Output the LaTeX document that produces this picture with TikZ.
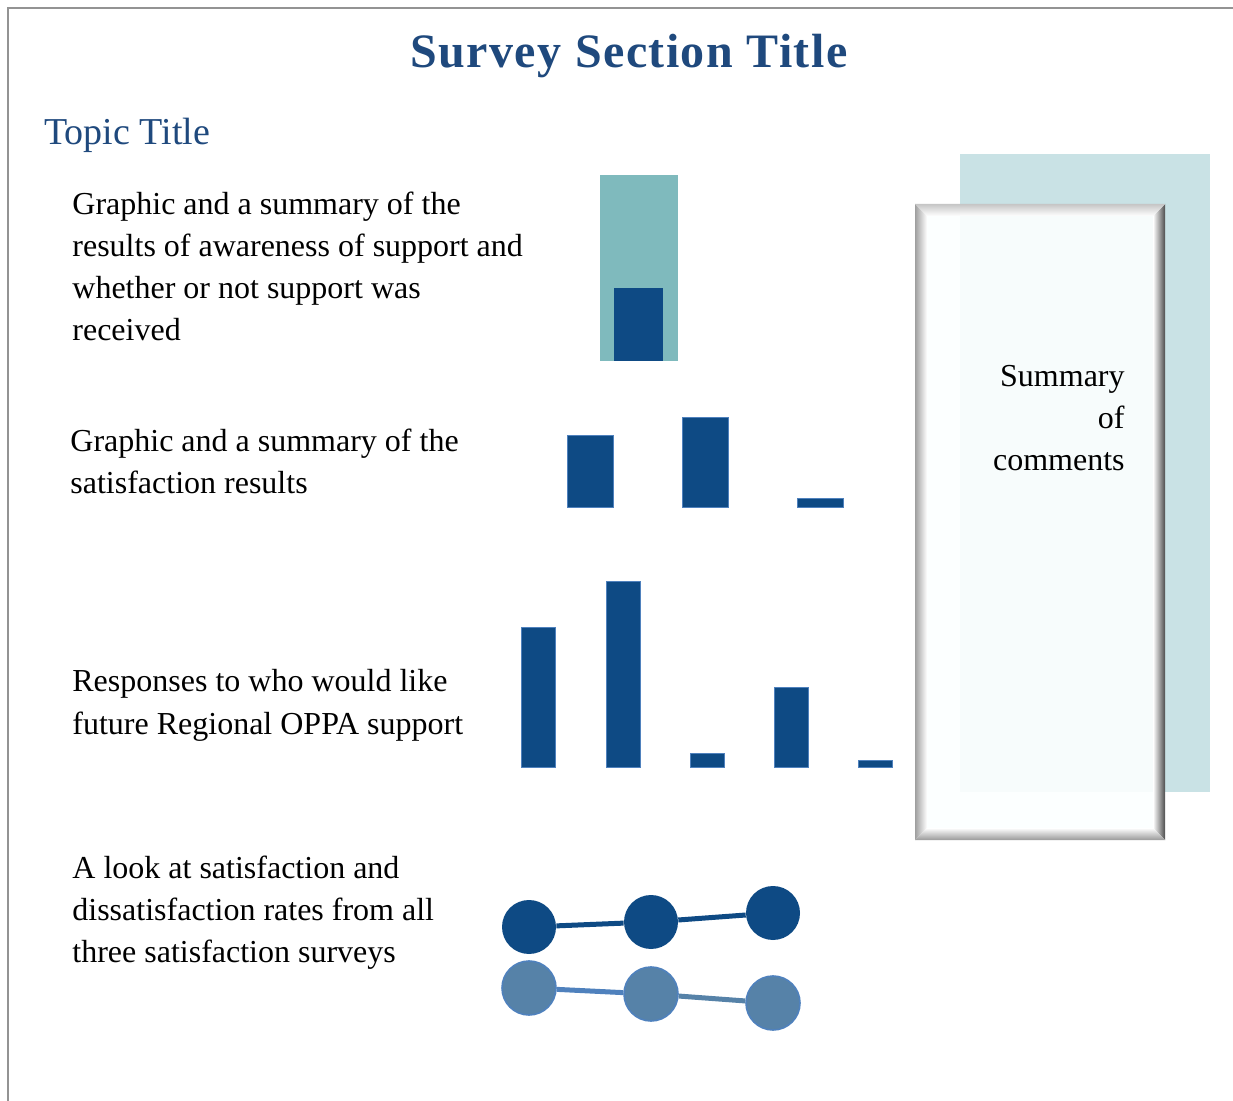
\documentclass[tikz,border=0pt]{standalone}
\usepackage{fontspec}
\setmainfont{Liberation Serif}
\usetikzlibrary{positioning}
\definecolor{navy}{HTML}{0E4A84}
\definecolor{titleblue}{HTML}{1F497D}
\definecolor{tealbar}{HTML}{7FBABD}
\definecolor{palebox}{HTML}{C9E2E5}
\definecolor{paleblue}{HTML}{5682A8}
\definecolor{edgeblue}{HTML}{4F81BD}
\definecolor{panelfill}{HTML}{FCFFFF}

\tikzset{
blurb/.style={anchor=base west, align=left, inner sep=0pt, font=\fontsize{16}{21}\selectfont},
bar/.style={fill=navy, draw=edgeblue, line width=0.3pt},
dot/.style={circle, fill=navy, minimum size=27pt, inner sep=0pt},
dimdot/.style={circle, fill=paleblue, draw=edgeblue, line width=0.8pt, minimum size=27pt, inner sep=0pt}
}

\begin{document}
\begin{tikzpicture}[x=0.5pt,y=-0.5pt]
\useasboundingbox (0,0) rectangle (1233,1101);
\draw[gray!85, line width=1pt] (8,1101) -- (8,8) -- (1233,8);

\node (title) [anchor=base, inner sep=0pt, text=titleblue, font=\fontsize{24}{28}\selectfont\bfseries\addfontfeature{LetterSpace=3}] at (629,68) {Survey Section Title};
\node (topic) [anchor=base west, inner sep=0pt, text=titleblue, font=\fontsize{19}{24}\selectfont] at (44,145) {Topic Title};

% base anchor sits on the last line
\node (aware) [blurb] at (72,341) {Graphic and a summary of the\\results of awareness of support and\\whether or not support was\\received};
\node (satis) [blurb] at (70,494) {Graphic and a summary of the\\satisfaction results};
\node (future) [blurb] at (72,734) {Responses to who would like\\future Regional OPPA support};
\node (rates) [blurb] at (72,962) {A look at satisfaction and\\dissatisfaction rates from all\\three satisfaction surveys};

% awareness graphic
\fill[tealbar] (600,175) rectangle (678,361);
\fill[navy] (614,288) rectangle (663,361);

% satisfaction bars
\foreach \l/\t/\r in {567/435/613, 682/417/728, 797/498/843}
\draw[bar] (\l,\t) rectangle (\r,507);

% future support bars
\foreach \l/\t/\r in {521/627/555, 606/581/640, 690/753/724, 774/687/808, 858/760/892}
\draw[bar] (\l,\t) rectangle (\r,767);

% comments panel
\fill[palebox] (960,154) rectangle (1210,792);
\fill[panelfill, fill opacity=0.9] (915,204) rectangle (1165,840);
\shade[left color=gray!75, right color=white] (915,204) -- (927,216) -- (927,828) -- (915,840) -- cycle;
\shade[left color=white, right color=black!70] (1165,204) -- (1153,216) -- (1153,828) -- (1165,840) -- cycle;
\shade[top color=gray!45, bottom color=white] (915,204) -- (1165,204) -- (1153,216) -- (927,216) -- cycle;
\shade[top color=white, bottom color=gray!80] (927,828) -- (1153,828) -- (1165,840) -- (915,840) -- cycle;
\node (summary) [anchor=base east, align=right, inner sep=0pt, font=\fontsize{16}{21}\selectfont] at (1125,471) {Summary\\of\\comments};

% rates graphic
\node (s1) [dot] at (529,927) {};
\node (s2) [dot] at (651,922) {};
\node (s3) [dot] at (773,913) {};
\node (d1) [dimdot] at (529,988) {};
\node (d2) [dimdot] at (651,994) {};
\node (d3) [dimdot] at (773,1003) {};
\draw[navy, line width=2.5pt] (s1) -- (s2) -- (s3);
\draw[edgeblue, line width=2.5pt] (d1) -- (d2);
\draw[paleblue, line width=2.5pt] (d2) -- (d3);
\end{tikzpicture}
\end{document}
